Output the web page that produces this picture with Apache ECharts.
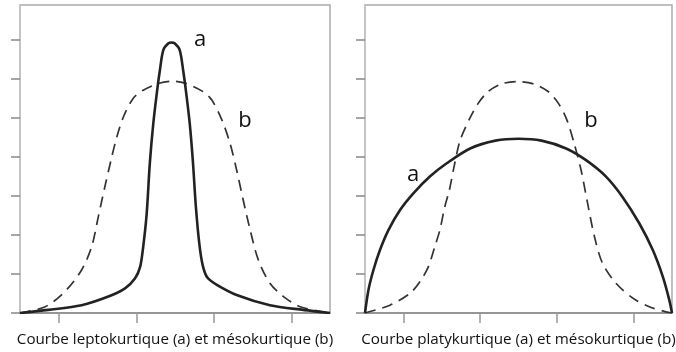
<!DOCTYPE html>
<html>
<head>
<meta charset="utf-8">
<script src="https://cdn.jsdelivr.net/npm/echarts@6/dist/echarts.min.js"></script>
<style>
  body { margin: 0; background: #fff; }
  #chart1 { width: 676px; height: 352px; }
</style>
</head>
<body>
<div id="chart1"></div>
<script>
// valeurs, x de -4 a 4
var leptoA = [[-4,0],[-3.27,0.08],[-2.41,0.2],[-1.72,0.42],[-1.29,0.63],[-1.03,0.89],[-0.9,1.18],[-0.82,1.7],
  [-0.73,2.55],[-0.65,3.83],[-0.56,4.85],[-0.47,5.62],[-0.39,6.21],[-0.3,6.73],[-0.17,6.9],[-0.09,6.92],
  [-0.01,6.9],[0.12,6.73],[0.21,6.21],[0.29,5.62],[0.38,4.85],[0.46,3.9],[0.54,2.7],[0.63,1.75],[0.72,1.2],
  [0.84,0.9],[1.08,0.72],[1.59,0.46],[2.45,0.2],[3.31,0.08],[4,0]];
var mesoLeft = [[-4,0],[-3.35,0.16],[-2.84,0.55],[-2.41,1.1],[-2.15,1.7],[-1.98,2.46],[-1.81,3.23],[-1.63,4.0],
  [-1.5,4.51],[-1.33,5.02],[-1.08,5.49],[-0.82,5.7],[-0.43,5.87],[-0.06,5.93],[0.26,5.88],[0.73,5.66],
  [0.95,5.45],[1.21,4.94],[1.42,4.34],[1.59,3.66],[1.76,2.89],[1.94,2.12],[2.15,1.36],[2.45,0.76],
  [2.8,0.42],[3.23,0.16],[4,0]];
var platyA = [[-4,0],[-3.91,0.59],[-3.78,1.1],[-3.61,1.61],[-3.39,2.12],[-3.09,2.63],[-2.74,3.06],[-2.31,3.49],
  [-1.87,3.83],[-1.26,4.21],[-0.6,4.41],[0.0,4.46],[0.6,4.41],[1.24,4.21],[1.76,3.91],[2.28,3.49],
  [2.71,2.97],[3.15,2.29],[3.5,1.61],[3.76,0.93],[3.93,0.33],[4,0]];
var mesoRight = [[-4,0],[-3.35,0.2],[-2.83,0.5],[-2.57,0.8],[-2.35,1.18],[-2.18,1.7],[-2.05,2.12],[-1.92,2.72],
  [-1.8,3.15],[-1.68,3.74],[-1.52,4.42],[-1.27,4.98],[-1.06,5.35],[-0.8,5.66],[-0.45,5.86],[-0.05,5.92],
  [0.4,5.86],[0.78,5.66],[1.05,5.35],[1.26,4.94],[1.45,4.34],[1.63,3.66],[1.8,2.81],[1.98,1.95],
  [2.19,1.27],[2.54,0.76],[2.98,0.38],[3.41,0.16],[3.84,0.03],[4,0]];
var xTicks = [-3, -1, 1, 3];
var yTicks = [0, 1, 2, 3, 4, 5, 6, 7];
var titres = ['Courbe leptokurtique (a) et mésokurtique (b)', 'Courbe platykurtique (a) et mésokurtique (b)'];

var police = '"Open Sans", sans-serif';

function axeX(i) {
  return {
    gridIndex: i, type: 'value', min: -4, max: 4,
    name: titres[i], nameLocation: 'middle', nameGap: 19,
    nameTextStyle: { fontFamily: police, fontSize: 15.2, color: '#111' },
    axisLine: { onZero: false, lineStyle: { color: '#888', width: 1.5 } },
    axisTick: { length: 10, customValues: xTicks, lineStyle: { color: '#999', width: 1.5 } },
    axisLabel: { show: false },
    splitLine: { show: false }
  };
}
function axeY(i) {
  return {
    gridIndex: i, type: 'value', min: 0, max: 7.88,
    axisLine: { show: true, onZero: false, lineStyle: { color: '#c4c4c4', width: 2 } },
    axisTick: { show: true, length: 9, customValues: yTicks, lineStyle: { color: '#888', width: 1.5 } },
    axisLabel: { show: false },
    splitLine: { show: false }
  };
}
function courbe(i, data, pointille) {
  return {
    type: 'line', xAxisIndex: i, yAxisIndex: i, data: data,
    smooth: 0.3, symbol: 'none', silent: true,
    lineStyle: pointille ? { color: '#333', width: 1.7, type: [11, 7] } : { color: '#222', width: 2.6 }
  };
}

var option = {
  animation: false,
  grid: [
    { left: 20, top: 5, width: 310, height: 308, outerBoundsMode: 'none', show: true, borderColor: '#aaa', borderWidth: 1.5 },
    { left: 365, top: 5, width: 307, height: 308, outerBoundsMode: 'none', show: true, borderColor: '#aaa', borderWidth: 1.5 }
  ],
  xAxis: [axeX(0), axeX(1)],
  yAxis: [axeY(0), axeY(1)],
  series: [
    courbe(0, mesoLeft, true),
    courbe(0, leptoA, false),
    courbe(1, mesoRight, true),
    courbe(1, platyA, false)
  ],
  graphic: [
    { type: 'text', x: 200, y: 40, style: { text: 'a', font: '22px ' + police, fill: '#111', align: 'center', verticalAlign: 'middle' } },
    { type: 'text', x: 245, y: 121, style: { text: 'b', font: '22px ' + police, fill: '#111', align: 'center', verticalAlign: 'middle' } },
    { type: 'text', x: 413, y: 175, style: { text: 'a', font: '22px ' + police, fill: '#111', align: 'center', verticalAlign: 'middle' } },
    { type: 'text', x: 591, y: 121, style: { text: 'b', font: '22px ' + police, fill: '#111', align: 'center', verticalAlign: 'middle' } }
  ]
};

var myChart = echarts.init(document.getElementById('chart1'));
myChart.setOption(option);
</script>
</body>
</html>
